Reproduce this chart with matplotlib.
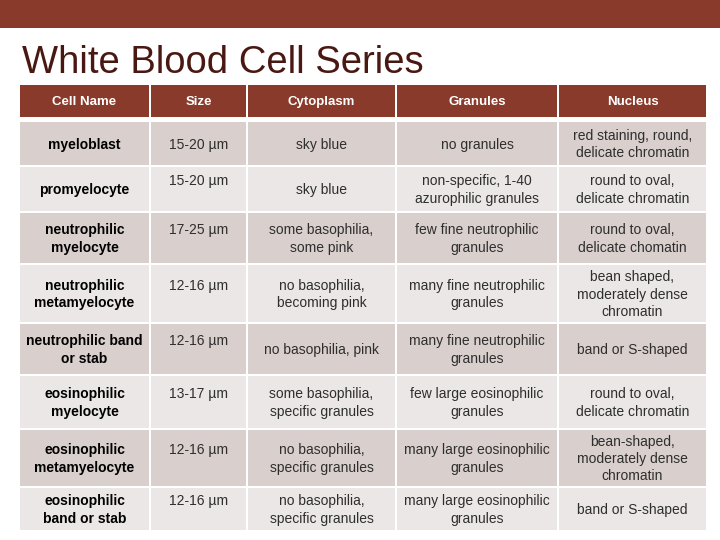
import matplotlib.pyplot as plt
from matplotlib.patches import Rectangle

# table content
headers = ["Cell Name", "Size", "Cytoplasm", "Granules", "Nucleus"]
cell_names = ["myeloblast", "promyelocyte", "neutrophilic\nmyelocyte",
              "neutrophilic\nmetamyelocyte", "neutrophilic band\nor stab",
              "eosinophilic\nmyelocyte", "eosinophilic\nmetamyelocyte",
              "eosinophilic\nband or stab"]
sizes = ["15-20 µm", "15-20 µm", "17-25 µm", "12-16 µm", "12-16 µm",
         "13-17 µm", "12-16 µm", "12-16 µm"]
cytoplasm = ["sky blue", "sky blue", "some basophilia,\nsome pink",
             "no basophilia,\nbecoming pink", "no basophilia, pink",
             "some basophilia,\nspecific granules", "no basophilia,\nspecific granules",
             "no basophilia,\nspecific granules"]
granules = ["no granules", "non-specific, 1-40\nazurophilic granules",
            "few fine neutrophilic\ngranules", "many fine neutrophilic\ngranules",
            "many fine neutrophilic\ngranules", "few large eosinophilic\ngranules",
            "many large eosinophilic\ngranules", "many large eosinophilic\ngranules"]
nucleus = ["red staining, round,\ndelicate chromatin", "round to oval,\ndelicate chromatin",
           "round to oval,\ndelicate chomatin", "bean shaped,\nmoderately dense\nchromatin",
           "band or S-shaped", "round to oval,\ndelicate chromatin",
           "bean-shaped,\nmoderately dense\nchromatin", "band or S-shaped"]

# layout (pixel grid of the slide)
col_edges = [20, 150, 247, 396, 558, 707]
row_edges = [122, 167, 213, 265, 324, 376, 430, 488, 532]
header_top, header_bot = 85, 117
gap = 2

brown = "#8A3A2A"
row_colors = ["#D9CFCD", "#EBE7E6"]
font = "Liberation Sans"

fig = plt.figure(figsize=(7.2, 5.4), dpi=100)
ax = fig.add_axes([0, 0, 1, 1])
ax.set_xlim(0, 720)
ax.set_ylim(540, 0)
ax.axis("off")

# top band
ax.add_patch(Rectangle((0, 0), 720, 28, color=brown, lw=0))
ax.text(22, 73, "White Blood Cell Series", fontsize=27.5, color="#4A1812",
        family=font, va="baseline", ha="left")

# header row
for j, h in enumerate(headers):
    x0 = col_edges[j] + (gap / 2 if j > 0 else 0)
    x1 = col_edges[j + 1] - gap / 2
    ax.add_patch(Rectangle((x0, header_top), x1 - x0, header_bot - header_top,
                           color=brown, lw=0))
    ax.text((x0 + x1) / 2, (header_top + header_bot) / 2 + 1, h, color="white",
            fontsize=9.5, fontweight="bold", family=font, ha="center", va="center")

columns = [cell_names, sizes, cytoplasm, granules, nucleus]
for i in range(len(cell_names)):
    y0 = row_edges[i]
    y1 = row_edges[i + 1] - gap
    for j, col in enumerate(columns):
        x0 = col_edges[j] + (gap / 2 if j > 0 else 0)
        x1 = col_edges[j + 1] - gap / 2
        ax.add_patch(Rectangle((x0, y0), x1 - x0, y1 - y0,
                               color=row_colors[i % 2], lw=0))
        txt = col[i]
        if j == 1 and i > 0:
            txt = txt + "\n "
        ax.text((x0 + x1) / 2, (y0 + y1) / 2 + 1, txt,
                fontsize=10, family=font, ha="center", va="center",
                multialignment="center", linespacing=1.3,
                fontweight="bold" if j == 0 else "normal",
                color="black" if j == 0 else "#2E2E2E")

fig.savefig("out.png", dpi=100)
